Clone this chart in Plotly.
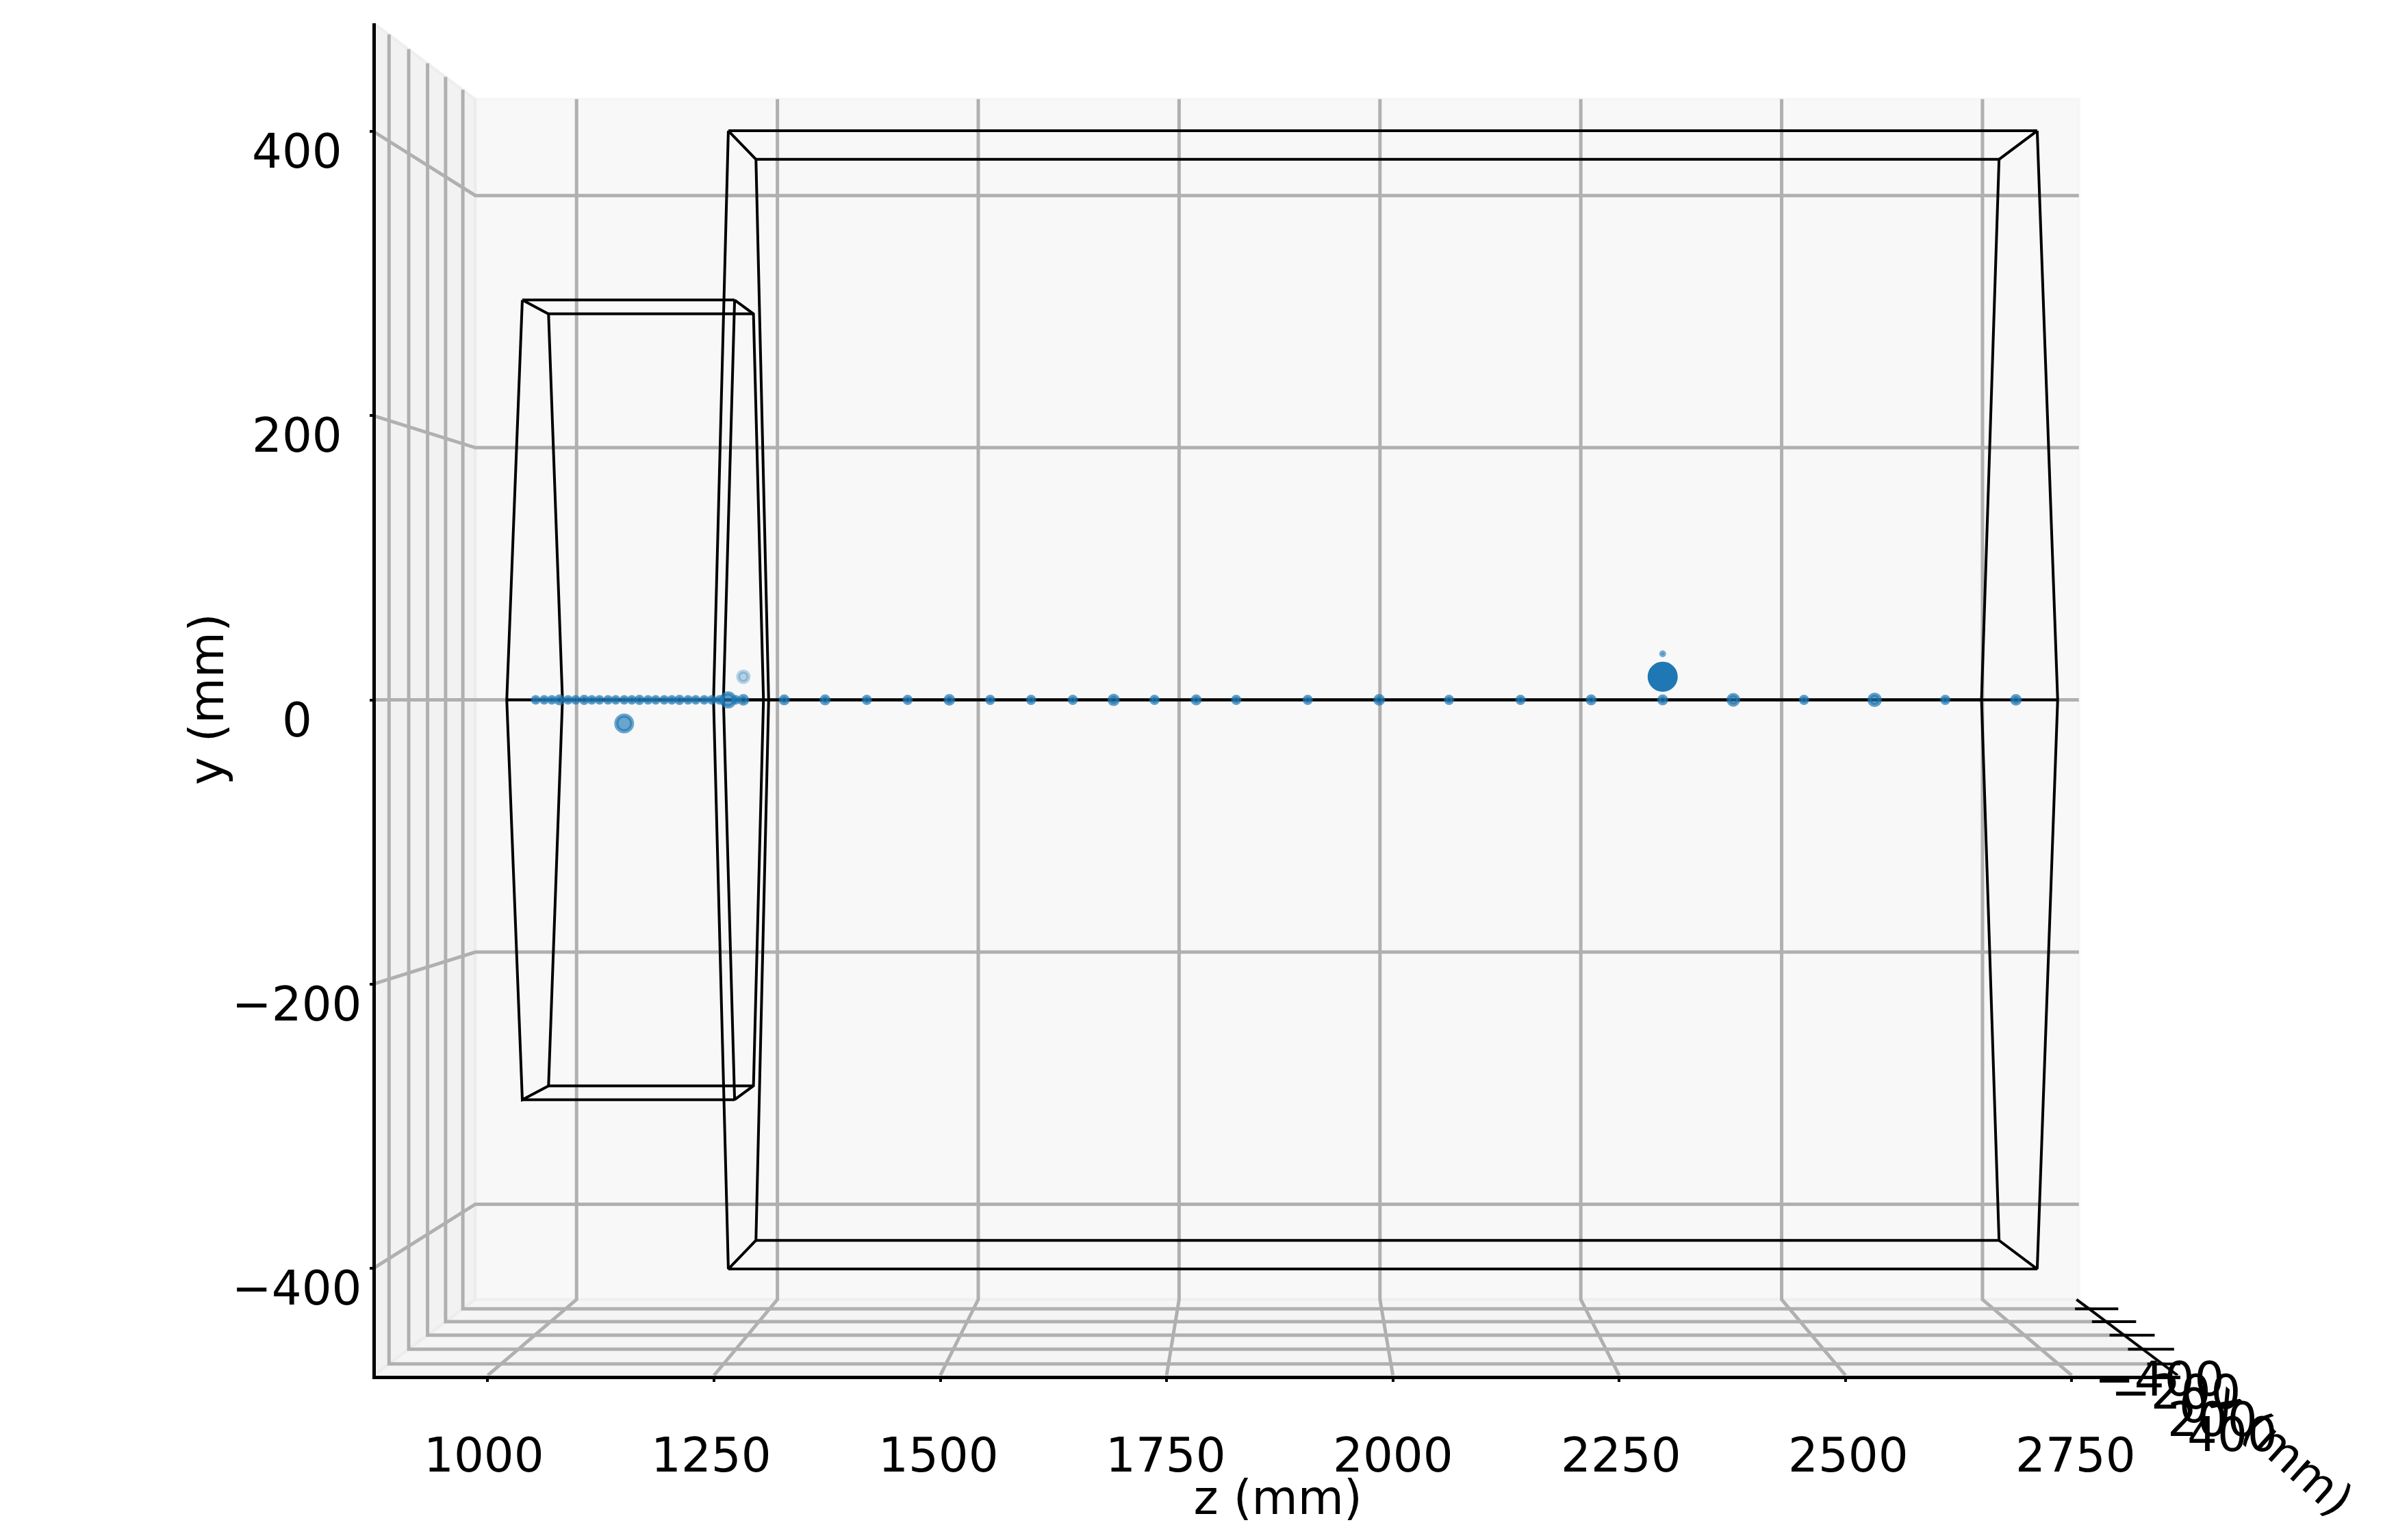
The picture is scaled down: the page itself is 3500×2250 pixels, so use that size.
import plotly.graph_objects as go

# axis limits (mm)
z_lim = [876, 2870]
y_lim = [-475.5, 476.5]
x_lim = [-550, 550]

z_ticks = [1000, 1250, 1500, 1750, 2000, 2250, 2500, 2750]
y_ticks = [-400, -200, 0, 200, 400]
x_ticks = [-400, -200, 0, 200, 400]

# hits
point_z = [1001, 1011, 1020, 1029, 1039, 1048, 1058, 1067, 1076, 1086, 1095, 1105, 1114, 1123,
           1133, 1142, 1152, 1161, 1170, 1180, 1189, 1199, 1208, 1217, 1227, 1236, 1245,
           1293, 1341, 1390, 1438, 1487, 1535, 1583, 1632, 1680, 1728, 1777, 1824, 1908, 1992,
           2074, 2158, 2241, 2325, 2408, 2491, 2574, 2657, 2740,
           1105, 1245, 2325, 2325]
point_y = [0] * 50 + [-17.6, 17.3, 17.3, 34.5]
point_x = [0] * 54
point_size = [8, 8, 8, 10, 8, 8, 9, 8, 8, 8, 8, 8, 8, 9,
              8, 8, 8, 8, 9, 8, 8, 8, 8, 8, 19, 8, 11,
              10, 10, 9, 9, 11, 9, 9, 9, 12, 9, 10, 9, 9, 11,
              9, 9, 10, 10, 14, 9, 15, 9, 11,
              23, 15, 38, 4]
point_alpha = [0.7] * 50 + [0.65, 0.3, 1.0, 0.6]

# wireframe vessels: z start, z end, half width at y=+-b, half height, half width at y=0
vessel_z = [[1001, 1246], [1244, 2742]]
vessel_a = [163, 238]
vessel_b = [294, 415]
vessel_c = [346, 474]

zc = sum(z_lim) / 2


def project(x, y, z):
    # perspective of the 3d view, seen along x
    s = 1 / (1.06335 - 1.1515e-4 * x)
    return zc + (z - zc) * s, y * s


def path(pts):
    xs, ys = [], []
    for p in pts:
        if p is None:
            xs.append(None)
            ys.append(None)
        else:
            px, py = project(*p)
            xs.append(px)
            ys.append(py)
    return xs, ys


def add_line(fig, pts, color, width):
    xs, ys = path(pts)
    fig.add_trace(go.Scatter(x=xs, y=ys, mode="lines", cliponaxis=False, showlegend=False,
                             hoverinfo="skip", line=dict(color=color, width=width)))


def add_pane(fig, pts, color):
    xs, ys = path(pts + pts[:1])
    fig.add_trace(go.Scatter(x=xs, y=ys, mode="lines", fill="toself", fillcolor=color,
                             cliponaxis=False, showlegend=False, hoverinfo="skip",
                             line=dict(color=color, width=4)))


fig = go.Figure()

z0, z1 = z_lim[0] - 2, z_lim[1]
y0, y1 = y_lim
xa, xb = x_lim

# panes
add_pane(fig, [(xa, y0, z0), (xa, y1, z0), (xa, y1, z1), (xa, y0, z1)], "rgba(242,242,242,0.5)")
add_pane(fig, [(xa, y0, z0), (xa, y1, z0), (xb, y1, z0), (xb, y0, z0)], "rgba(230,230,230,0.5)")
add_pane(fig, [(xa, y0, z0), (xa, y0, z1), (xb, y0, z1), (xb, y0, z0)], "rgba(236,236,236,0.5)")

# grid
grid = []
for z in z_ticks:
    grid += [(xa, y1, z), (xa, y0, z), (xb, y0, z), None]
for y in y_ticks:
    grid += [(xb, y, z0), (xa, y, z0), (xa, y, z1), None]
for x in x_ticks:
    grid += [(x, y1, z0), (x, y0, z0), (x, y0, z1), None]
add_line(fig, grid, "#b0b0b0", 5)

# x axis, drawn by hand as it runs in depth
x_axis = [(xa, y0, z1 - 3), (xb, y0, z1 - 3), None]
for x in x_ticks:
    x_axis += [(x, y0, z1 - 20), (x, y0, z1 + 33), None]
add_line(fig, x_axis, "black", 4)

# vessels
for (za, zb), a, b, c in zip(vessel_z, vessel_a, vessel_b, vessel_c):
    hexagon = [(a, b), (c, 0), (a, -b), (-a, -b), (-c, 0), (-a, b), (a, b)]
    wire = []
    for z in (za, zb):
        wire += [(hx, hy, z) for hx, hy in hexagon] + [None]
    for hx, hy in hexagon[:-1]:
        wire += [(hx, hy, za), (hx, hy, zb), None]
    add_line(fig, wire, "black", 4)

# hits
px, py = zip(*[project(x, y, z) for x, y, z in zip(point_x, point_y, point_z)])
colors = [f"rgba(31,119,180,{a})" for a in point_alpha]
fig.add_trace(go.Scatter(x=px, y=py, mode="markers", cliponaxis=False, showlegend=False,
                         marker=dict(size=point_size, color=colors, opacity=1,
                                     line=dict(color=colors, width=6))))

font = dict(family="DejaVu Sans", size=69, color="black")

for z in z_ticks:
    fig.add_annotation(x=zc + (z - zc) * 1.0047, xref="x", y=1 - 2126 / 2250, yref="paper",
                       showarrow=False, xanchor="center", yanchor="middle", text=str(z), font=font)
for y in y_ticks:
    fig.add_annotation(x=434 / 3500, xref="paper", y=y, yref="y", yshift=-29, showarrow=False,
                       xanchor="center", text=str(y).replace("-", "\u2212"), font=font)
for x in x_ticks:
    tx, ty = project(x, y0, z1 - 17)
    fig.add_annotation(x=tx, xref="x", y=ty, yref="y", xshift=120, yshift=-103, showarrow=False,
                       xanchor="center", yanchor="middle",
                       text=str(x).replace("-", "\u2212"), font=font)
fig.add_annotation(x=3333 / 3500, xref="paper", y=1 - 2117 / 2250, yref="paper", showarrow=False,
                   xanchor="center", yanchor="middle",
                   text="x (mm)", textangle=42, font=font)

fig.update_layout(
    width=3500,
    height=2250,
    margin=dict(l=0, r=0, t=0, b=0),
    paper_bgcolor="white",
    plot_bgcolor="rgba(0,0,0,0)",
    font=font,
    xaxis=dict(
        domain=[548.5 / 3500, 3185 / 3500],
        range=z_lim,
        tickvals=z_ticks,
        ticktext=[""] * 8,
        ticks="outside",
        ticklen=4,
        tickwidth=4,
        tickcolor="black",
        showline=True,
        linewidth=5,
        linecolor="black",
        showgrid=False,
        zeroline=False,
        title=dict(text="z (mm)", standoff=134, font=font),
    ),
    yaxis=dict(
        domain=[1 - 2009.5 / 2250, 1 - 33.5 / 2250],
        range=y_lim,
        tickvals=y_ticks,
        ticktext=[""] * 5,
        ticks="outside",
        ticklen=4,
        tickwidth=4,
        tickcolor="black",
        showline=True,
        linewidth=5,
        linecolor="black",
        showgrid=False,
        zeroline=False,
        title=dict(text="y (mm)", standoff=178, font=font),
    ),
)

fig.write_html("out.html", config=dict(displayModeBar=False),
               post_script='document.body.style.margin="0";')
